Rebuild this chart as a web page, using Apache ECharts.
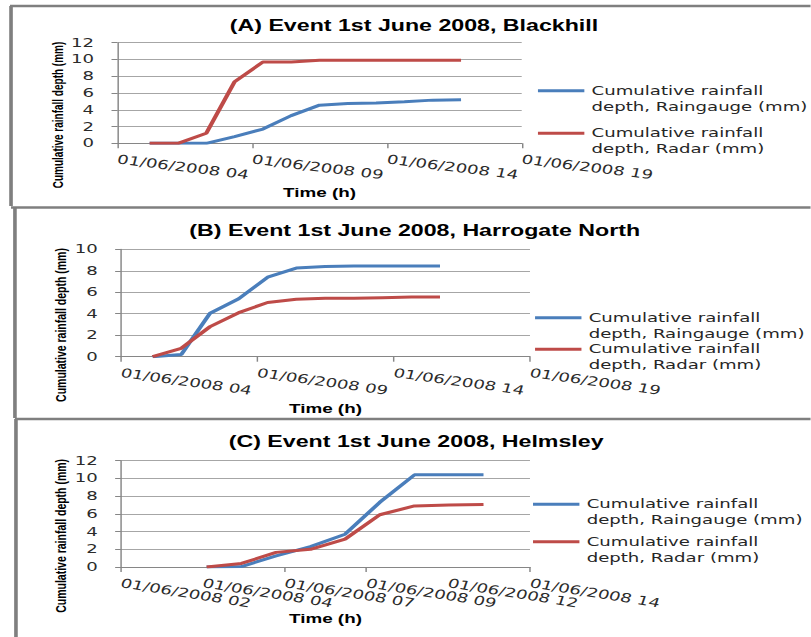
<!DOCTYPE html>
<html>
<head>
<meta charset="utf-8">
<script src="https://cdn.jsdelivr.net/npm/echarts@6/dist/echarts.min.js"></script>
<style>
  html, body { margin: 0; padding: 0; background: #fff; overflow: hidden; }
  /* the source figure is a horizontally stretched Excel export: draw narrow, then widen */
  #chart { width: 559.3px; height: 637px; transform: scaleX(1.45); transform-origin: 0 0; }
</style>
</head>
<body>
<div id="chart"></div>
<script>
// hours of the day (01/06/2008) and cumulative depths in mm
const startA = 4
const timeA = [5.2, 6.25, 7.3, 8.35, 9.4, 10.45, 11.5, 12.55, 13.6, 14.65, 15.7, 16.75]
const gaugeA = [0, 0, 0, 0.8, 1.7, 3.3, 4.55, 4.75, 4.8, 4.95, 5.15, 5.2]
const radarA = [0, 0, 1.2, 7.35, 9.7, 9.7, 9.9, 9.9, 9.9, 9.9, 9.9, 9.9]

const startB = 4
const timeB = [5.16, 6.21, 7.27, 8.32, 9.38, 10.43, 11.49, 12.54, 13.59, 14.65, 15.7]
const gaugeB = [0, 0.2, 4.05, 5.4, 7.4, 8.25, 8.4, 8.45, 8.45, 8.45, 8.45]
const radarB = [0, 0.78, 2.8, 4.1, 5.05, 5.35, 5.45, 5.45, 5.5, 5.55, 5.55]

const startC = 2
const timeC = [4.62, 5.68, 6.74, 7.79, 8.85, 9.91, 10.97, 12.02, 13.08]
const gaugeC = [0, 0.05, 1.25, 2.3, 3.7, 7.3, 10.4, 10.4, 10.4]
const radarC = [0, 0.4, 1.65, 2.0, 3.15, 5.9, 6.9, 7.0, 7.05]

const titles = [
  '(A) Event 1st June 2008, Blackhill',
  '(B) Event 1st June 2008, Harrogate North',
  '(C) Event 1st June 2008, Helmsley'
]
const gaugeName = 'Cumulative rainfall\ndepth, Raingauge (mm)'
const radarName = 'Cumulative rainfall\ndepth, Radar (mm)'

const blue = '#4a7ebb'
const red = '#be4b48'
const axisGray = '#868686'
const frameGray = '#7f7f7f'

const gridA = { left: 80.9, top: 42.7, width: 278.9, height: 100.6 }
const gridB = { left: 83.4, top: 249.3, width: 282.1, height: 107.4 }
const gridC = { left: 83.4, top: 460.7, width: 282.1, height: 106.3 }

function pad(h) {
  return (h < 10 ? '0' : '') + h
}

function dateLabel(start, v) {
  return '01/06/2008 ' + pad(Math.floor(start + v + 1e-9))
}

// x is stored relative to the axis start so that ticks fall on min + k*interval
function pairs(times, values, start) {
  return times.map((t, i) => [t - start, values[i]])
}

function titleFor(text, left, top) {
  return {
    text,
    left,
    top,
    padding: 0,
    textAlign: 'center',
    textVerticalAlign: 'top',
    textStyle: { fontFamily: 'Liberation Sans', fontWeight: 'bold', fontSize: 16, color: '#000' }
  }
}

function tickLabelStyle(rotate) {
  return {
    rotate,
    margin: 16,
    fontFamily: 'DejaVu Sans',
    fontSize: 12.5,
    color: '#2b2b2b'
  }
}

function xAxisFor(gridIndex, start, span, step, gap, rotate) {
  return {
    type: 'value',
    gridIndex,
    min: 0,
    max: span,
    interval: step,
    name: 'Time (h)',
    nameLocation: 'middle',
    nameGap: gap,
    nameMoveOverlap: false,
    nameTextStyle: { fontFamily: 'Liberation Sans', fontWeight: 'bold', fontSize: 13, color: '#000' },
    axisLine: { show: true, lineStyle: { color: axisGray, width: 1 } },
    axisTick: { show: true, length: 5, lineStyle: { color: axisGray } },
    splitLine: { show: false },
    axisLabel: Object.assign(tickLabelStyle(rotate), {
      showMinLabel: true,
      showMaxLabel: true,
      hideOverlap: false,
      formatter: (v) => dateLabel(start, v)
    })
  }
}

// ECharts drops the label next to min/max when they overlap, so panel C
// gets a second label-only axis carrying those two labels
function extraLabelAxis(gridIndex, start, span, step, keep, rotate) {
  return {
    type: 'value',
    gridIndex,
    min: 0,
    max: span,
    interval: step,
    axisLine: { show: false },
    axisTick: { show: false },
    splitLine: { show: false },
    axisLabel: Object.assign(tickLabelStyle(rotate), {
      showMinLabel: false,
      showMaxLabel: false,
      hideOverlap: false,
      formatter: (v) => (keep.some((k) => Math.abs(k - v) < 1e-6) ? dateLabel(start, v) : '')
    })
  }
}

function yAxisFor(gridIndex, max, nameSize) {
  return {
    type: 'value',
    gridIndex,
    min: 0,
    max,
    interval: 2,
    name: 'Cumulative rainfall depth (mm)',
    nameLocation: 'middle',
    nameGap: 36,
    nameMoveOverlap: false,
    nameTextStyle: {
      fontFamily: 'Liberation Sans',
      fontWeight: 'bold',
      fontSize: nameSize,
      color: '#000',
      padding: [0, 44, 0, 0]
    },
    axisLine: { show: true, lineStyle: { color: axisGray, width: 1 } },
    axisTick: { show: true, length: 4, lineStyle: { color: axisGray } },
    splitLine: { show: true, lineStyle: { color: '#a6a6a6', width: 1 } },
    axisLabel: { margin: 16, fontFamily: 'DejaVu Sans', fontSize: 12.5, color: '#2b2b2b' }
  }
}

function legendFor(left, top, gap) {
  return {
    orient: 'vertical',
    left,
    top,
    padding: 0,
    itemGap: gap,
    itemWidth: 32,
    itemHeight: 3,
    icon: 'rect',
    selectedMode: false,
    data: [gaugeName, radarName],
    // blank first line so the swatch sits level with "Cumulative rainfall"
    formatter: (name) => '\u00a0\n' + name,
    textStyle: {
      fontFamily: 'DejaVu Sans',
      fontSize: 12.5,
      lineHeight: 16,
      color: '#262626'
    }
  }
}

function lineSeries(name, color, idx, data) {
  return {
    type: 'line',
    name,
    xAxisIndex: idx,
    yAxisIndex: idx,
    data,
    symbol: 'none',
    showSymbol: false,
    lineStyle: { color, width: 3 },
    itemStyle: { color },
    animation: false
  }
}

function frameLine(x1, y1, x2, y2) {
  return {
    type: 'line',
    shape: { x1, y1, x2, y2 },
    style: { stroke: frameGray, lineWidth: 2.5 },
    silent: true
  }
}

const chart = echarts.init(document.getElementById('chart'), null, { renderer: 'svg' })

const option = {
  backgroundColor: '#fff',
  animation: false,
  title: [
    titleFor(titles[0], 285.5, 17),
    titleFor(titles[1], 286, 222),
    titleFor(titles[2], 287, 433)
  ],
  legend: [
    legendFor(371, 66.7, -5.4),
    legendFor(369, 293.7, -16.4),
    legendFor(367.6, 480.3, -10.6)
  ],
  grid: [
    Object.assign({ outerBoundsMode: 'none' }, gridA),
    Object.assign({ outerBoundsMode: 'none' }, gridB),
    Object.assign({ outerBoundsMode: 'none' }, gridC),
    Object.assign({ outerBoundsMode: 'none' }, gridC)
  ],
  xAxis: [
    xAxisFor(0, startA, 15, 5, 42, -10),
    xAxisFor(1, startB, 15, 5, 45, -11.5),
    xAxisFor(2, startC, 12.5, 2.5, 45, -13),
    extraLabelAxis(3, startC, 12.5, 2.5, [2.5, 10], -13)
  ],
  yAxis: [
    yAxisFor(0, 12, 10),
    yAxisFor(1, 10, 10.5),
    yAxisFor(2, 12, 10.5),
    { type: 'value', gridIndex: 3, min: 0, max: 12, show: false }
  ],
  series: [
    lineSeries(gaugeName, blue, 0, pairs(timeA, gaugeA, startA)),
    lineSeries(radarName, red, 0, pairs(timeA, radarA, startA)),
    lineSeries(gaugeName, blue, 1, pairs(timeB, gaugeB, startB)),
    lineSeries(radarName, red, 1, pairs(timeB, radarB, startB)),
    lineSeries(gaugeName, blue, 2, pairs(timeC, gaugeC, startC)),
    lineSeries(radarName, red, 2, pairs(timeC, radarC, startC))
  ],
  graphic: [
    frameLine(6.9, 6, 560, 6),
    frameLine(7.6, 6, 7.6, 206),
    frameLine(7.6, 207.5, 560, 207.5),
    frameLine(10.3, 207.5, 10.3, 418),
    frameLine(10.3, 419, 560, 419),
    frameLine(11, 419, 11, 637)
  ]
}

chart.setOption(option)
</script>
</body>
</html>
